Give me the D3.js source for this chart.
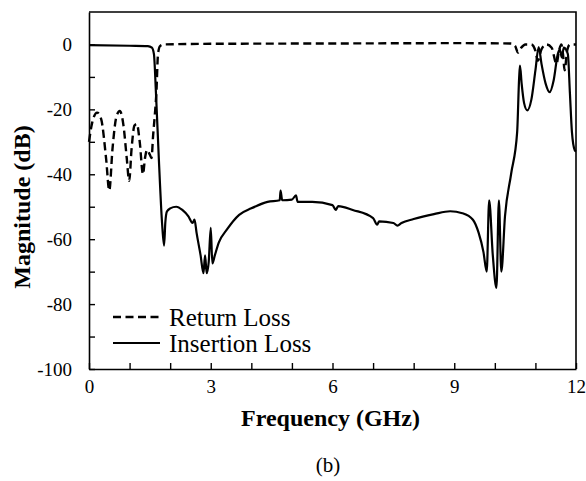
<!DOCTYPE html>
<html>
<head>
<meta charset="utf-8">
<script src="https://cdn.jsdelivr.net/npm/d3@7"></script>
<style>
  body { margin: 0; background: #fff; }
  svg { display: block; }
  text { font-family: "Liberation Serif", "Times New Roman", serif; fill: #000; }
</style>
</head>
<body>
<svg id="svg-filter"></svg>
<script>
var width = 586,
    height = 481,
    margin = {top: 12, right: 10, bottom: 112, left: 89},
    plotW = width - margin.left - margin.right,
    plotH = height - margin.top - margin.bottom;

// frequency (GHz), magnitude (dB)
var returnLoss = [
  [0,-30],[0.08,-24],[0.2,-21],[0.3,-23],[0.42,-35],[0.5,-45],[0.58,-32],[0.68,-22],
  [0.76,-20.5],[0.85,-25],[0.93,-35],[0.99,-42],[1.05,-32],[1.12,-25],[1.18,-24.5],
  [1.25,-30],[1.33,-40],[1.38,-35],[1.43,-32.5],[1.5,-34],[1.54,-35],[1.58,-28],
  [1.62,-22],[1.66,-15],[1.7,-3],[1.75,-0.5],[1.85,0],[3,0.2],[6,0.3],[9,0.4],
  [10.4,0.3],[10.5,-0.5],[10.57,-2.5],[10.65,-1],[10.75,0],[10.9,0],[11.0,-2],
  [11.06,-5],[11.15,-1.5],[11.27,0],[11.4,-1],[11.52,-6],[11.58,-2],[11.64,0],
  [11.68,-3],[11.72,-8],[11.78,-2],[11.85,0],[12,0]
];

var insertionLoss = [
  [0,-0.2],[1,-0.4],[1.45,-0.5],[1.55,-1],[1.6,-3],[1.65,-15],[1.72,-35],[1.8,-55],
  [1.85,-62],[1.88,-55],[1.92,-51.5],[2.0,-50.5],[2.15,-50],[2.3,-51],[2.45,-53],
  [2.55,-55],[2.6,-54],[2.65,-58],[2.75,-65],[2.82,-70.5],[2.86,-65],[2.9,-70.5],
  [2.95,-67],[3.0,-56.5],[3.04,-67.5],[3.1,-65],[3.2,-61],[3.4,-57],[3.7,-52.5],
  [4.0,-50.5],[4.4,-48.5],[4.7,-48],[4.72,-45],[4.76,-48],[5.0,-47.8],[5.1,-46.5],
  [5.14,-48.5],[5.5,-48.5],[6.0,-49.5],[6.08,-51],[6.14,-49.8],[6.5,-51],[7.0,-53.5],
  [7.1,-55.5],[7.15,-54.5],[7.5,-55],[7.6,-55.8],[7.7,-55],[8.0,-53.8],[8.5,-52.3],
  [8.9,-51.4],[9.2,-52],[9.46,-54],[9.6,-58],[9.72,-64],[9.8,-70],[9.86,-48],
  [9.95,-65],[10.04,-75],[10.1,-48],[10.16,-70],[10.25,-53],[10.4,-40],[10.55,-27],
  [10.6,-10],[10.62,-6.5],[10.66,-12],[10.72,-18],[10.8,-20.3],[10.9,-17],[11.0,-8],
  [11.08,-0.8],[11.15,-6],[11.25,-12],[11.35,-14.7],[11.45,-11],[11.55,-3],[11.6,-1.5],
  [11.65,-4],[11.7,-1],[11.75,-1.5],[11.8,-3],[11.85,-15],[11.9,-27],[11.97,-32.6],[12,-33]
];

var xTicks = d3.range(0, 13, 1),
    yTicks = d3.range(-100, 1, 10),
    legendLabels = ['Return Loss', 'Insertion Loss'];

var x = d3.scaleLinear().domain([0, 12]).range([0, plotW]),
    y = d3.scaleLinear().domain([-100, 10]).range([plotH, 0]);

var svg = d3.select('#svg-filter')
    .attr('width', width)
    .attr('height', height);

svg.append('rect').attr('width', width).attr('height', height).attr('fill', '#fff');

var g = svg.append('g')
    .attr('transform', 'translate(' + margin.left + ',' + margin.top + ')');

// frame (top + right)
g.append('path')
  .attr('d', 'M0,0H' + plotW + 'V' + plotH)
  .attr('fill', 'none')
  .attr('stroke', '#000')
  .attr('stroke-width', 1.6);

var xAxis = g.append('g')
  .attr('transform', 'translate(0,' + plotH + ')')
  .call(d3.axisBottom(x)
    .tickValues(xTicks)
    .tickSizeInner(-6)
    .tickSizeOuter(0)
    .tickPadding(11)
    .tickFormat(function(d) { return d % 3 === 0 ? String(d) : ''; }));

var yAxis = g.append('g')
  .call(d3.axisLeft(y)
    .tickValues(yTicks)
    .tickSizeInner(-6)
    .tickSizeOuter(0)
    .tickPadding(17)
    .tickFormat(function(d) { return d % 20 === 0 ? String(d) : ''; }));

[xAxis, yAxis].forEach(function(a) {
  a.select('.domain').attr('stroke-width', 1.6);
  a.selectAll('.tick line').attr('stroke-width', 1.4);
  a.selectAll('.tick text')
    .attr('font-family', '"Liberation Serif", serif')
    .attr('font-size', 19);
});

var line = d3.line()
  .x(function(d) { return x(d[0]); })
  .y(function(d) { return y(d[1]); })
  .curve(d3.curveMonotoneX);

g.append('path')
  .datum(insertionLoss)
  .attr('d', line)
  .attr('fill', 'none')
  .attr('stroke', '#000')
  .attr('stroke-width', 2.2)
  .attr('stroke-linejoin', 'round');

g.append('path')
  .datum(returnLoss)
  .attr('d', line)
  .attr('fill', 'none')
  .attr('stroke', '#000')
  .attr('stroke-width', 2.4)
  .attr('stroke-dasharray', '8,4.5');

// legend
var legend = svg.append('g').attr('class', 'legend');
legendLabels.forEach(function(l, i) {
  var ly = 317 + i * 26;
  legend.append('line')
    .attr('x1', 113).attr('x2', 160)
    .attr('y1', ly).attr('y2', ly)
    .attr('stroke', '#000')
    .attr('stroke-width', i === 0 ? 2.4 : 2)
    .attr('stroke-dasharray', i === 0 ? '8,4.5' : null);
  legend.append('text')
    .attr('x', 169).attr('y', ly)
    .attr('dy', '0.35em')
    .attr('font-size', 25)
    .text(l);
});

svg.append('text')
  .attr('x', margin.left + plotW / 2 - 2)
  .attr('y', 426)
  .attr('text-anchor', 'middle')
  .attr('font-size', 24)
  .attr('font-weight', 'bold')
  .text('Frequency (GHz)');

svg.append('text')
  .attr('transform', 'translate(30,207) rotate(-90)')
  .attr('text-anchor', 'middle')
  .attr('font-size', 24)
  .attr('font-weight', 'bold')
  .text('Magnitude (dB)');

svg.append('text')
  .attr('x', 328)
  .attr('y', 472)
  .attr('text-anchor', 'middle')
  .attr('font-family', '"DejaVu Sans", sans-serif')
  .attr('font-size', 21)
  .text('(b)');
</script>
</body>
</html>
